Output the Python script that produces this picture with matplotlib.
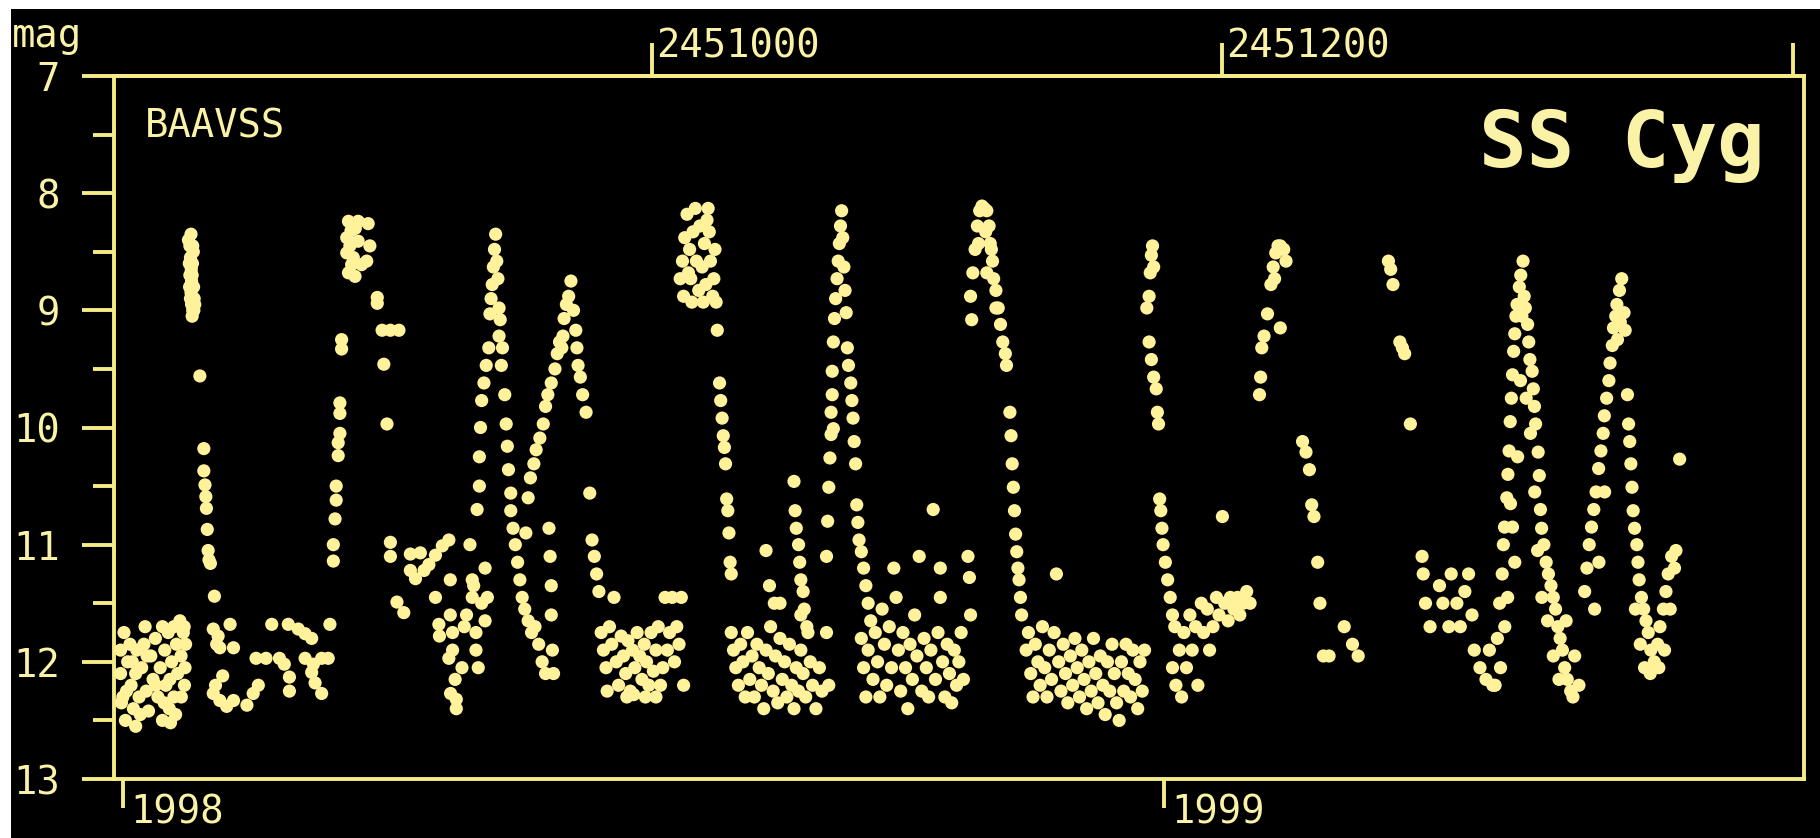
import numpy as np
from matplotlib import pyplot as plt
from matplotlib.patches import Rectangle
from matplotlib.transforms import blended_transform_factory, ScaledTranslation

# SS Cyg light curve, BAAVSS visual estimates, 1998 - early 1999
# points are (JD - 2450000, visual magnitude)

JD0 = 2450000

quiet_1 = [
    (813.7, 11.9), (813.7, 12.1), (814.0, 12.35), (814.5, 12.3), (814.9, 11.75),
    (815.4, 12.5), (815.8, 12.25), (816.2, 12.0), (817.0, 11.85), (817.4, 12.2),
    (817.8, 12.0), (818.2, 12.4), (819.0, 12.1), (819.0, 12.55), (819.4, 11.9),
    (820.2, 12.3), (820.6, 12.45), (821.1, 12.05), (821.9, 11.85), (822.3, 11.7),
    (822.7, 12.25), (823.0, 11.95), (823.5, 12.42), (824.3, 11.95), (825.1, 12.15),
    (825.9, 11.8), (826.0, 12.2), (826.8, 12.3), (827.6, 12.05), (828.4, 12.5),
    (828.4, 11.7), (829.0, 12.35), (829.2, 11.9), (829.6, 12.2), (830.4, 11.75),
    (830.8, 12.4), (831.0, 12.15), (831.2, 12.52), (831.6, 12.0), (832.4, 11.7),
    (832.4, 12.3), (833.0, 12.45), (833.3, 11.85), (833.7, 12.1), (834.5, 11.65),
    (834.9, 11.95), (835.0, 12.3), (835.7, 11.75), (836.0, 11.7), (836.1, 12.2),
    (836.3, 12.05), (836.5, 11.85),
]

burst_1 = [
    (837.5, 8.40), (838.0, 8.45), (838.2, 8.55), (837.8, 8.60), (838.5, 8.65),
    (838.0, 8.70), (838.6, 8.75), (837.9, 8.80), (838.4, 8.85), (838.8, 8.70),
    (838.2, 8.90), (838.9, 8.60), (839.3, 8.80), (838.6, 8.95), (839.0, 9.00),
    (839.5, 8.90), (838.8, 9.05), (839.2, 8.50), (839.7, 8.95), (839.4, 9.00),
    (838.4, 8.35), (839.0, 8.45), (841.5, 9.56),
    (842.9, 10.18), (842.9, 10.37), (843.3, 10.49), (843.6, 10.59), (843.8, 10.69),
    (844.1, 10.87), (844.4, 11.05), (844.7, 11.13), (845.2, 11.16), (846.6, 11.44),
]

quiet_2 = [
    (846.2, 11.72), (847.9, 11.78), (852.1, 11.68), (853.3, 11.88), (847.4, 11.85),
    (848.5, 11.88), (846.2, 12.27), (848.5, 12.33), (850.9, 12.38), (853.3, 12.33),
    (858.0, 12.37), (860.2, 12.27), (862.0, 12.20), (866.7, 11.68), (872.5, 11.68),
    (876.0, 11.72), (878.4, 11.76), (880.7, 11.80), (861.2, 11.97), (864.7, 11.97),
    (869.4, 11.97), (871.1, 12.02), (872.9, 12.13), (872.9, 12.25), (878.4, 11.97),
    (881.3, 12.02), (884.2, 11.97), (886.5, 11.97), (880.7, 12.09), (881.9, 12.18),
    (884.2, 12.27), (887.1, 11.68), (847.0, 12.20), (849.5, 12.12),
]

burst_2 = [
    (888.3, 11.14), (888.3, 11.00), (888.9, 10.78), (889.3, 10.62), (889.3, 10.50),
    (890.0, 10.24), (890.0, 10.13), (890.6, 10.05), (890.6, 9.88), (890.6, 9.79),
    (891.2, 9.33), (891.2, 9.25),
    (893.6, 8.24), (897.0, 8.24), (900.5, 8.26), (893.0, 8.38), (894.1, 8.45),
    (897.0, 8.41), (893.0, 8.51), (895.3, 8.55), (900.0, 8.58), (901.1, 8.45),
    (893.6, 8.68), (895.9, 8.71), (898.2, 8.61), (894.7, 8.61), (894.5, 8.32),
    (896.0, 8.30),
    (903.7, 8.89), (903.7, 8.94), (905.4, 9.17), (908.3, 9.17), (911.3, 9.17),
    (906.0, 9.46), (907.1, 9.97),
]

quiet_3 = [
    (908.3, 10.98), (908.3, 11.10), (910.6, 11.49), (913.0, 11.58), (915.3, 11.08),
    (918.8, 11.07), (915.3, 11.22), (917.1, 11.29), (920.1, 11.22), (921.8, 11.17),
    (924.1, 11.09), (926.5, 11.01), (928.8, 10.96), (924.1, 11.45), (925.3, 11.68),
    (925.5, 11.78), (928.8, 11.97), (929.4, 12.27), (929.3, 11.30), (929.3, 11.60),
    (930.1, 11.75), (930.1, 11.90), (931.0, 12.15), (931.4, 12.32), (931.4, 12.40),
    (933.4, 12.05), (934.2, 11.70), (935.0, 11.60), (936.2, 11.00), (937.0, 11.30),
    (937.0, 11.45), (938.3, 11.75), (938.3, 11.90), (939.1, 12.05), (940.3, 11.50),
    (941.5, 11.65), (942.3, 11.45), (937.5, 11.35), (941.5, 11.20),
]

burst_3 = [
    (938.7, 10.70), (939.5, 10.50), (939.5, 10.25), (939.9, 10.00), (940.3, 9.77),
    (941.1, 9.62), (941.9, 9.47), (942.8, 9.32), (943.2, 9.03), (943.6, 8.90),
    (944.0, 8.78), (944.4, 8.63), (944.8, 8.48), (945.2, 8.35), (945.6, 8.58),
    (946.0, 8.73), (946.4, 8.98), (946.8, 9.08), (946.4, 9.22), (947.6, 9.32),
    (947.2, 9.47), (948.4, 9.72), (948.9, 9.97), (949.3, 10.16), (949.7, 10.36),
    (950.5, 10.56), (950.5, 10.71), (951.3, 10.86), (952.1, 11.00), (952.9, 11.15),
    (953.7, 11.30), (954.5, 11.45), (955.4, 11.55), (956.6, 11.65), (957.8, 11.75),
    (959.0, 11.70), (960.3, 11.85), (961.5, 12.00), (962.7, 12.10),
]

burst_4 = [
    (955.8, 10.90), (956.6, 10.60), (957.4, 10.43), (958.6, 10.31), (959.4, 10.19),
    (960.7, 10.09), (961.9, 9.97), (962.7, 9.82), (963.5, 9.72), (964.7, 9.62),
    (966.0, 9.50), (966.8, 9.37), (967.6, 9.27), (968.4, 9.32), (968.8, 9.22),
    (969.2, 9.07), (970.0, 8.95), (970.8, 8.88), (971.6, 8.75), (972.5, 9.00),
    (973.3, 9.17), (973.7, 9.32), (974.1, 9.47), (974.9, 9.57), (975.7, 9.72),
    (976.9, 9.87), (978.2, 10.56), (979.0, 10.96), (979.8, 11.10), (980.6, 11.25),
    (981.4, 11.40), (963.9, 10.86), (964.3, 11.10), (964.7, 11.35), (964.7, 11.60),
    (965.1, 11.90), (965.5, 12.10),
]

quiet_4 = [
    (982.2, 11.75), (983.0, 11.90), (983.9, 12.05), (984.3, 12.25), (985.1, 11.70),
    (985.9, 11.85), (986.7, 11.45), (987.5, 12.00), (988.3, 12.20), (989.2, 11.78),
    (990.0, 11.95), (990.8, 12.10), (991.6, 11.82), (992.4, 12.25), (993.2, 11.90),
    (994.0, 12.05), (994.8, 11.75), (995.7, 11.95), (996.5, 12.15), (997.3, 11.85),
    (998.1, 12.00), (998.9, 12.20), (999.7, 11.75), (1000.5, 12.08), (1001.4, 11.90),
    (1002.2, 11.70), (1003.0, 12.20), (1003.8, 12.05), (1004.6, 11.45), (1005.4, 11.90),
    (1006.2, 11.75), (1007.1, 11.45), (1007.9, 12.00), (1008.7, 11.70), (1009.5, 11.85),
    (1010.3, 11.45), (1011.1, 12.20), (997.7, 12.30), (1001.4, 12.30), (991.2, 12.30),
    (993.6, 12.28),
]

burst_5 = [
    (1009.9, 8.73), (1010.7, 8.58), (1011.1, 8.88), (1011.5, 8.38), (1012.3, 8.18),
    (1013.2, 8.48), (1013.6, 8.73), (1014.4, 8.33), (1015.2, 8.13), (1015.6, 8.58),
    (1016.4, 8.83), (1016.8, 8.28), (1017.6, 8.63), (1018.4, 8.43), (1018.9, 8.78),
    (1019.7, 8.13), (1020.1, 8.33), (1020.5, 8.58), (1021.3, 8.88), (1021.7, 8.73),
    (1022.1, 8.48), (1022.5, 8.93), (1022.9, 9.17), (1014.0, 8.93), (1018.0, 8.93),
    (1012.8, 8.68), (1019.3, 8.23),
    (1023.7, 9.62), (1024.1, 9.77), (1024.6, 9.92), (1025.0, 10.07), (1025.4, 10.17),
    (1025.8, 10.31), (1026.2, 10.61), (1026.6, 10.71), (1027.0, 10.90), (1027.4, 11.15),
    (1027.8, 11.25),
]

quiet_5 = [
    (1027.8, 11.75), (1028.6, 11.90), (1029.4, 12.05), (1030.3, 12.20), (1031.1, 11.85),
    (1031.9, 12.00), (1032.7, 12.30), (1033.5, 11.75), (1034.3, 12.15), (1035.1, 11.95),
    (1035.9, 12.30), (1036.8, 11.85), (1037.6, 12.05), (1038.4, 12.20), (1039.2, 12.40),
    (1040.0, 11.90), (1040.8, 12.10), (1041.6, 11.70), (1042.5, 12.25), (1043.3, 11.95),
    (1044.1, 12.35), (1044.9, 11.80), (1045.7, 12.15), (1046.5, 12.00), (1047.3, 12.30),
    (1048.2, 11.85), (1049.0, 12.20), (1049.8, 12.40), (1050.6, 12.05), (1051.4, 12.25),
    (1052.2, 11.90), (1053.0, 12.10), (1053.9, 12.30), (1054.7, 11.75), (1055.5, 12.00),
    (1056.3, 12.20), (1057.5, 12.40), (1058.7, 12.05), (1059.6, 12.25), (1040.0, 11.05),
    (1041.2, 11.35), (1042.9, 11.50), (1044.9, 11.50),
    (1049.8, 10.46), (1050.2, 10.71), (1050.6, 10.86), (1051.4, 11.00), (1051.8, 11.15),
    (1052.2, 11.30), (1053.0, 11.40), (1053.4, 11.55), (1054.3, 11.70), (1052.2, 11.60),
]

burst_6 = [
    (1061.2, 11.10), (1061.6, 10.80), (1062.0, 10.51), (1062.4, 10.26), (1062.8, 10.06),
    (1062.8, 9.87), (1063.2, 9.72), (1063.2, 9.52), (1063.6, 9.27), (1064.0, 9.07),
    (1064.4, 8.90), (1064.9, 8.73), (1065.3, 8.58), (1065.7, 8.43), (1066.1, 8.28),
    (1066.5, 8.15), (1066.9, 8.38), (1067.3, 8.63), (1067.7, 8.83), (1068.1, 9.02),
    (1063.6, 10.01), (1068.5, 9.32), (1068.9, 9.47), (1069.7, 9.62), (1070.1, 9.77),
    (1070.5, 9.92), (1070.9, 10.12), (1071.4, 10.31), (1071.8, 10.66), (1072.2, 10.81),
    (1072.6, 10.96), (1073.4, 11.06), (1074.2, 11.20), (1075.0, 11.35), (1075.8, 11.50),
    (1061.2, 11.75), (1062.0, 12.20),
]

quiet_6 = [
    (1073.4, 11.80), (1074.2, 12.05), (1075.0, 12.30), (1075.8, 11.90), (1076.7, 11.65),
    (1077.5, 12.15), (1078.3, 11.75), (1079.1, 12.00), (1079.9, 12.30), (1080.7, 11.55),
    (1081.5, 11.85), (1082.3, 12.20), (1083.2, 11.70), (1084.0, 12.05), (1084.8, 11.20),
    (1085.6, 11.45), (1086.4, 11.90), (1087.2, 12.25), (1088.0, 11.75), (1088.9, 12.05),
    (1089.7, 12.40), (1090.5, 11.85), (1091.3, 12.15), (1092.1, 11.60), (1092.9, 11.95),
    (1093.7, 11.10), (1094.6, 12.25), (1095.4, 11.80), (1096.2, 12.05), (1097.0, 12.30),
    (1097.8, 11.90), (1098.6, 10.70), (1099.4, 12.15), (1100.3, 11.75), (1101.1, 11.20),
    (1101.1, 11.45), (1101.9, 12.00), (1102.7, 12.30), (1103.5, 11.85), (1104.3, 12.10),
    (1105.1, 12.35), (1106.0, 11.90), (1106.8, 12.20), (1107.6, 12.00), (1108.4, 11.75),
    (1109.2, 12.15), (1110.8, 11.10), (1111.3, 11.28), (1111.7, 11.60),
]

burst_7 = [
    (1111.7, 8.88), (1112.1, 9.08), (1112.5, 8.68), (1113.3, 8.48), (1114.1, 8.28),
    (1114.9, 8.15), (1115.7, 8.11), (1116.5, 8.13), (1117.4, 8.15), (1118.2, 8.28),
    (1118.6, 8.43), (1119.4, 8.58), (1119.8, 8.73), (1120.6, 8.83), (1121.4, 8.98),
    (1122.2, 9.12), (1123.0, 9.27), (1123.9, 9.37), (1124.3, 9.47), (1114.5, 8.43),
    (1117.0, 8.33), (1119.0, 8.48), (1120.6, 8.98), (1117.4, 8.68),
    (1125.5, 9.87), (1125.9, 10.07), (1126.3, 10.31), (1126.7, 10.51), (1127.1, 10.71),
    (1127.5, 10.91), (1127.9, 11.06), (1128.3, 11.20), (1128.7, 11.30), (1129.2, 11.45),
    (1129.6, 11.60),
]

quiet_7 = [
    (1131.2, 11.90), (1132.0, 11.75), (1132.8, 12.10), (1133.6, 12.30), (1134.4, 11.85),
    (1135.3, 12.00), (1136.1, 12.20), (1136.9, 11.70), (1137.7, 12.05), (1138.5, 12.30),
    (1139.3, 11.90), (1140.1, 12.15), (1141.0, 11.75), (1141.8, 11.25), (1142.6, 12.00),
    (1143.4, 12.25), (1144.2, 11.85), (1145.0, 12.10), (1145.8, 12.35), (1146.7, 11.95),
    (1147.5, 12.20), (1148.3, 11.80), (1149.1, 12.05), (1149.9, 12.30), (1150.7, 11.90),
    (1151.5, 12.15), (1152.4, 12.40), (1153.2, 12.00), (1154.0, 12.25), (1154.8, 11.80),
    (1155.6, 12.10), (1156.4, 12.35), (1157.2, 11.95), (1158.1, 12.20), (1158.9, 12.45),
    (1159.7, 12.00), (1160.5, 12.25), (1161.3, 11.85), (1162.1, 12.10), (1162.9, 12.35),
    (1163.8, 12.50), (1164.6, 12.00), (1165.4, 12.25), (1166.2, 11.85), (1167.0, 12.10),
    (1167.8, 12.30), (1168.6, 11.90), (1169.4, 12.15), (1170.3, 12.40), (1171.1, 12.00),
    (1171.9, 12.25), (1172.7, 11.90),
]

burst_8 = [
    (1173.5, 8.98), (1174.3, 8.88), (1174.7, 8.68), (1175.1, 8.53), (1175.5, 8.45),
    (1175.9, 8.63), (1174.3, 9.27), (1175.1, 9.42), (1175.9, 9.57), (1176.8, 9.67),
    (1177.2, 9.87), (1177.6, 9.97), (1178.0, 10.61), (1178.4, 10.71), (1178.8, 10.86),
    (1179.2, 11.00), (1180.0, 11.15), (1180.8, 11.30), (1181.7, 11.45), (1182.5, 11.60),
    (1183.3, 11.70),
]

quiet_8 = [
    (1182.5, 12.05), (1183.7, 12.20), (1184.9, 11.90), (1185.7, 12.30), (1186.5, 11.75),
    (1187.4, 12.05), (1188.6, 11.60), (1189.4, 11.90), (1190.6, 11.70), (1191.4, 12.20),
    (1192.6, 11.50), (1193.4, 11.75), (1194.7, 11.55), (1195.5, 11.90), (1196.7, 11.70),
    (1197.9, 11.45), (1198.8, 11.60), (1200.0, 10.76), (1200.8, 11.50), (1202.0, 11.65),
    (1202.8, 11.45), (1204.0, 11.55), (1205.3, 11.45), (1206.1, 11.60), (1207.3, 11.50),
    (1208.5, 11.40), (1209.7, 11.50),
]

burst_9 = [
    (1213.0, 9.72), (1213.4, 9.57), (1213.8, 9.32), (1214.6, 9.22), (1215.8, 9.03),
    (1217.0, 8.78), (1217.8, 8.63), (1218.7, 8.51), (1219.5, 8.45), (1220.3, 8.45),
    (1221.5, 8.48), (1222.3, 8.58), (1220.3, 9.15), (1218.3, 8.73),
    (1228.1, 10.12), (1229.3, 10.21), (1230.5, 10.36), (1231.3, 10.66), (1232.1, 10.76),
    (1233.4, 11.15), (1234.2, 11.50), (1235.4, 11.95), (1237.4, 11.95), (1242.7, 11.70),
    (1245.6, 11.85), (1247.6, 11.95),
]

burst_10 = [
    (1258.2, 8.58), (1259.0, 8.65), (1259.8, 8.78), (1262.2, 9.27), (1263.1, 9.32),
    (1263.9, 9.37), (1265.9, 9.97),
    (1270.0, 11.10), (1270.4, 11.25), (1271.2, 11.50), (1272.8, 11.70), (1276.1, 11.35),
    (1277.3, 11.50), (1279.4, 11.70), (1280.2, 11.25), (1282.2, 11.50), (1283.4, 11.70),
    (1285.0, 11.40), (1286.3, 11.25), (1287.5, 11.60), (1288.3, 11.90), (1290.3, 12.05),
    (1292.4, 12.15), (1293.6, 11.90), (1294.8, 12.20),
]

burst_11 = [
    (1296.4, 11.80), (1297.2, 11.50), (1298.1, 11.25), (1298.5, 11.00), (1298.9, 10.85),
    (1299.7, 10.60), (1300.1, 10.40), (1300.5, 10.20), (1300.9, 9.95), (1301.3, 9.75),
    (1301.7, 9.55), (1302.1, 9.35), (1302.5, 9.20), (1302.9, 9.05), (1303.3, 8.95),
    (1304.1, 8.80), (1304.6, 8.70), (1305.4, 8.58), (1305.8, 8.88), (1306.2, 8.98),
    (1307.0, 9.12), (1307.4, 9.27), (1307.8, 9.42), (1308.6, 9.52), (1309.0, 9.67),
    (1309.4, 9.82), (1309.8, 9.97), (1310.7, 10.21), (1311.1, 10.41), (1311.5, 10.70),
    (1311.9, 10.86), (1312.7, 11.00), (1313.5, 11.15), (1314.3, 11.25), (1315.2, 11.35),
    (1316.0, 11.45), (1316.8, 11.55), (1317.6, 11.70), (1318.4, 11.80), (1319.2, 11.90),
    (1320.0, 12.05), (1320.9, 12.15), (1322.1, 12.25), (1322.9, 12.30), (1301.7, 10.85),
    (1302.5, 11.15), (1295.6, 12.20),
    (1300.0, 11.45), (1301.0, 10.65), (1303.5, 10.25), (1304.5, 9.60), (1305.0, 9.05),
    (1306.5, 9.75), (1308.0, 10.05), (1309.5, 10.55), (1310.5, 11.05), (1312.0, 11.45),
    (1314.0, 11.65), (1316.0, 11.95), (1318.0, 12.15), (1320.5, 11.65), (1323.5, 11.95),
    (1325.0, 12.20), (1297.5, 12.05), (1299.0, 11.70),
]

burst_12 = [
    (1327.0, 11.40), (1327.8, 11.20), (1328.6, 11.00), (1329.4, 10.85), (1330.2, 10.70),
    (1331.0, 10.55), (1331.9, 10.35), (1332.7, 10.20), (1333.5, 10.05), (1333.9, 9.90),
    (1334.7, 9.75), (1335.5, 9.60), (1335.9, 9.45), (1336.7, 9.30), (1337.1, 9.15),
    (1337.9, 9.05), (1338.3, 8.95), (1339.2, 8.83), (1340.0, 8.73), (1340.8, 9.02),
    (1341.2, 9.17), (1342.0, 9.72), (1342.4, 9.97), (1342.8, 10.12), (1343.2, 10.31),
    (1343.6, 10.51), (1344.0, 10.71), (1344.5, 10.86), (1345.3, 11.00), (1345.7, 11.15),
    (1346.1, 11.30), (1346.9, 11.45), (1347.7, 11.55), (1348.5, 11.65), (1349.3, 11.75),
    (1350.2, 11.90), (1351.4, 12.00), (1352.6, 11.85), (1353.4, 11.70), (1354.6, 11.55),
    (1355.5, 11.40), (1356.3, 11.25), (1357.5, 11.10), (1360.3, 10.27),
    (1330.5, 11.55), (1332.0, 11.15), (1334.0, 10.55), (1338.5, 9.25), (1339.5, 9.10),
    (1344.8, 11.55), (1346.5, 11.85), (1348.0, 12.05), (1350.0, 12.10), (1353.0, 12.05),
    (1355.0, 11.90), (1357.0, 11.55), (1358.5, 11.20), (1359.0, 11.05),
]

y_major = [7, 8, 9, 10, 11, 12, 13]
y_minor = [7.5, 8.5, 9.5, 10.5, 11.5, 12.5]
top_ticks = [2451000, 2451200, 2451400]
top_labels = ["2451000", "2451200", ""]
year_ticks = [2450814.5, 2451179.5]
year_labels = ["1998", "1999"]

DOT = "#fff29a"
LINE = "#f5ec86"
TEXT = "#faf2a6"
LW = 2.8

plt.rcParams["font.family"] = ["DejaVu Sans Mono", "DejaVu Sans"]

segments = [quiet_1, burst_1, quiet_2, burst_2, quiet_3, burst_3, burst_4, quiet_4,
            burst_5, quiet_5, burst_6, quiet_6, burst_7, quiet_7, burst_8, quiet_8,
            burst_9, burst_10, burst_11, burst_12]
pts = np.array([p for seg in segments for p in seg])
jd = pts[:, 0] + JD0
mag = pts[:, 1]

W, H = 1820, 838
fig = plt.figure(figsize=(W / 100, H / 100), dpi=100)
fig.patch.set_facecolor("white")
fig.add_artist(Rectangle((11 / W, 0), 1, 1 - 9 / H, transform=fig.transFigure,
                         facecolor="black", edgecolor="none", zorder=-10))

ax = fig.add_axes([114 / W, 1 - 779 / H, (1804 - 114) / W, (779 - 76) / H])
ax.set_facecolor("black")
for s in ax.spines.values():
    s.set_color(LINE)
    s.set_linewidth(LW)

ax.scatter(jd, mag, s=90, color=DOT, edgecolors="none", zorder=3)

ax.set_xlim(2450811.4, 2451403.9)
ax.set_ylim(13, 7)

ax.set_yticks(y_major)
ax.set_yticks(y_minor, minor=True)
ax.tick_params(axis="y", which="major", direction="out", length=23, width=LW,
               color=LINE, labelcolor=TEXT, labelsize=28, pad=16)
ax.tick_params(axis="y", which="minor", direction="out", length=15, width=LW,
               color=LINE)

ax.set_xticks(year_ticks, labels=["", ""])
ax.tick_params(axis="x", which="major", direction="out", length=21, width=LW,
               color=LINE)

top = ax.secondary_xaxis("top")
top.set_xticks(top_ticks, labels=["", "", ""])
top.tick_params(axis="x", direction="out", length=24, width=LW, color=LINE)
top.spines["top"].set_color(LINE)
top.spines["top"].set_linewidth(LW)

bt = blended_transform_factory(ax.transData, ax.transAxes)
for x, lab in zip(top_ticks, top_labels):
    ax.text(x, 1, lab, transform=bt + ScaledTranslation(0.04, 0.18, fig.dpi_scale_trans),
            ha="left", va="baseline", fontsize=28, color=TEXT)
for x, lab in zip(year_ticks, year_labels):
    ax.text(x, 0, lab, transform=bt + ScaledTranslation(0.07, -0.44, fig.dpi_scale_trans),
            ha="left", va="baseline", fontsize=28, color=TEXT)

fig.text(12 / W, 1 - 47 / H, "mag", ha="left", va="baseline", fontsize=28, color=TEXT)
ax.text(0.0183, 0.913, "BAAVSS", transform=ax.transAxes, ha="left", va="baseline",
        fontsize=28, color=TEXT)
ax.text(0.977, 0.8706, "SS Cyg", transform=ax.transAxes, ha="right", va="baseline",
        fontsize=57, fontweight="bold", color=TEXT)

fig.savefig("out.png", dpi=100, facecolor=fig.get_facecolor())
